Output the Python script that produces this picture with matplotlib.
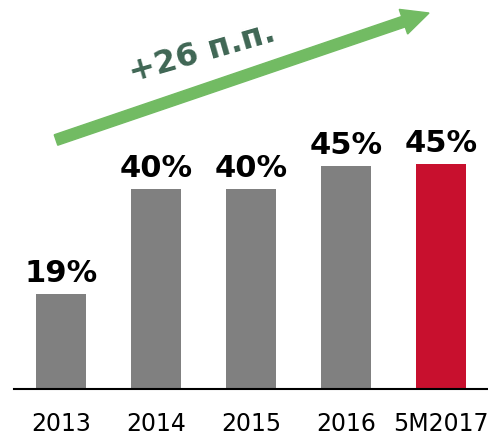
import matplotlib
matplotlib.use("Agg")
import matplotlib.pyplot as plt
from matplotlib.patches import FancyArrow

# data
years = ["2013", "2014", "2015", "2016", "5M2017"]
values = [19.0, 40.0, 40.0, 44.6, 45.0]
bar_colors = ["#808080", "#808080", "#808080", "#808080", "#C8102E"]
growth_label = "+26 п.п."

fig = plt.figure(figsize=(4.89, 4.35), dpi=100)
ax = fig.add_axes([14 / 489, 45 / 435, 475 / 489, 390 / 435])

x = list(range(len(years)))
bars = ax.bar(x, values, width=0.53, color=bar_colors)

for xi, v in zip(x, values):
    ax.annotate(f"{v:.0f}%", (xi, v), xytext=(0, 9), textcoords="offset points",
                ha="center", va="baseline", fontsize=22, fontweight="bold", color="black")

ax.set_xlim(-0.495, 4.505)
ax.set_ylim(0, 78)
ax.set_xticks(x)
ax.set_xticklabels(years, fontsize=17)
ax.tick_params(axis="x", length=0, pad=16)
ax.set_yticks([])
for s in ["top", "left", "right"]:
    ax.spines[s].set_visible(False)
ax.spines["bottom"].set_linewidth(1.5)

# growth arrow (pixel coords)
arrow = FancyArrow(56, 294, 373, 127, width=11, head_width=26, head_length=27,
                   length_includes_head=True, color="#72BB63", transform=None)
fig.add_artist(arrow)
fig.text(202 / 489, 1 - 53 / 435, growth_label, rotation=16, ha="center", va="center",
         fontsize=23, fontweight="bold", color="#3F6654")

fig.savefig("out.png", dpi=100)
